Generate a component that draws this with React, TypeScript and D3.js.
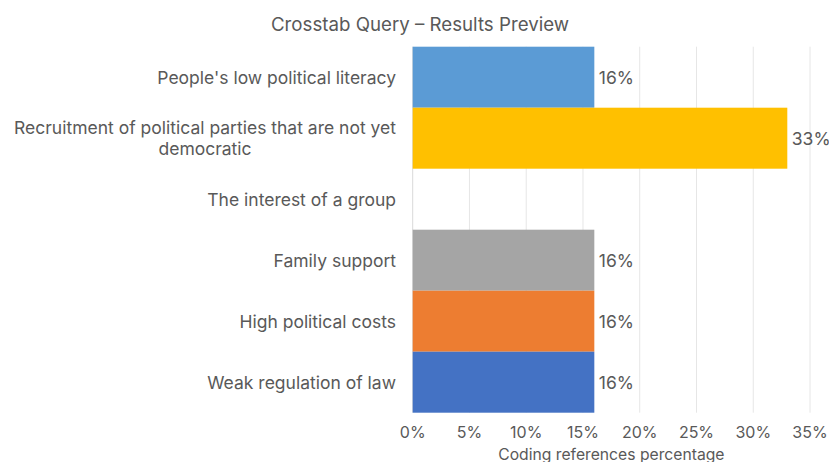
import React from "react";
import * as d3 from "d3";

const categories = [
  "People's low political literacy",
  "Recruitment of political parties that are not yet democratic",
  "The interest of a group",
  "Family support",
  "High political costs",
  "Weak regulation of law",
];
const values = [16, 33, 0, 16, 16, 16];
const colors = ["#5B9BD5", "#FFC000", "#A5A5A5", "#A5A5A5", "#ED7D31", "#4472C4"];
const xTicks = [0, 5, 10, 15, 20, 25, 30, 35];
const title = "Crosstab Query – Results Preview";
const xTitle = "Coding references percentage";

const W = 829;
const H = 462;
const FONT = "Inter, 'Noto Sans', sans-serif";
const TEXT = "#595959";
const LABEL_FS = 17.5;

function measure(text: string, font: string): number {
  const canvas = document.createElement("canvas");
  const ctx = canvas.getContext("2d")!;
  ctx.font = font;
  return ctx.measureText(text).width;
}

function wrap(text: string, maxW: number, font: string): string[] {
  const words = text.split(" ");
  const lines: string[] = [];
  let cur = "";
  for (const w of words) {
    const t = cur ? cur + " " + w : w;
    if (measure(t, font) > maxW && cur) {
      lines.push(cur);
      cur = w;
    } else cur = t;
  }
  if (cur) lines.push(cur);
  return lines;
}

export default function App() {
  const x = d3.scaleLinear().domain([0, 35]).range([412.7, 810]);
  const y = d3.scaleBand<string>().domain(categories).range([46.7, 412.7]).padding(0);
  const labelRight = 396;
  const lf = `${LABEL_FS}px ${FONT}`;
  return (
    <svg width={W} height={H} style={{ position: "absolute", left: 0, top: 0, background: "#fff" }}>
      <text x={420} y={30.5} textAnchor="middle" fontFamily={FONT} fontSize={18.7} fill={TEXT}>
        {title}
      </text>
      {xTicks.map((t) => (
        <line key={"g" + t} x1={x(t)} x2={x(t)} y1={46.7} y2={412.7} stroke={t === 0 ? "#D9D9D9" : "#E6E6E6"} strokeWidth={1} />
      ))}
      {categories.map((c, i) => (
        <rect key={c} x={x(0)} y={y(c)!} width={x(values[i]) - x(0)} height={y.bandwidth()} fill={colors[i]} />
      ))}
      {categories.map((c, i) =>
        values[i] > 0 ? (
          <text key={"v" + c} x={x(values[i]) + 4.5} y={y(c)! + y.bandwidth() / 2} dy="0.36em" fontFamily={FONT} fontSize={LABEL_FS} fill={TEXT}>
            {values[i]}%
          </text>
        ) : null
      )}
      {categories.map((c) => {
        const lines = wrap(c, 392, lf);
        const cy = y(c)! + y.bandwidth() / 2;
        const lh = 21;
        const start = cy - ((lines.length - 1) * lh) / 2;
        if (lines.length === 1) {
          return (
            <text key={"l" + c} x={labelRight} y={cy} dy="0.36em" textAnchor="end" fontFamily={FONT} fontSize={LABEL_FS} fill={TEXT}>
              {c}
            </text>
          );
        }
        const maxw = Math.max(...lines.map((l) => measure(l, lf)));
        const cx = labelRight - maxw / 2;
        return (
          <text key={"l" + c} textAnchor="middle" fontFamily={FONT} fontSize={LABEL_FS} fill={TEXT}>
            {lines.map((l, k) => (
              <tspan key={k} x={cx} y={start + k * lh} dy="0.36em">
                {l}
              </tspan>
            ))}
          </text>
        );
      })}
      {xTicks.map((t) => (
        <text key={"t" + t} x={x(t)} y={438} textAnchor="middle" fontFamily={FONT} fontSize={16} fill={TEXT}>
          {t}%
        </text>
      ))}
      <text x={(x(0) + x(35)) / 2} y={459.5} textAnchor="middle" fontFamily={FONT} fontSize={15.7} fill={TEXT}>
        {xTitle}
      </text>
    </svg>
  );
}
